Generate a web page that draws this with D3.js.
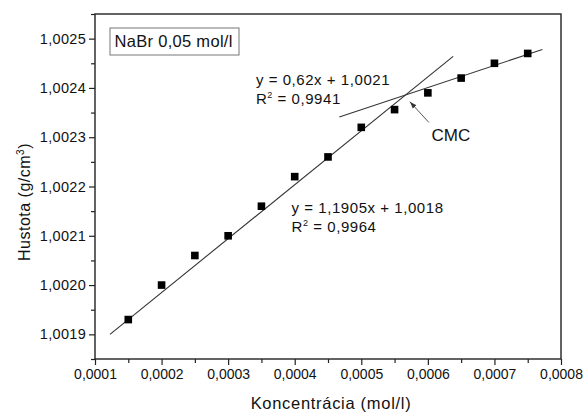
<!DOCTYPE html>
<html>
<head>
<meta charset="utf-8">
<script src="https://cdn.jsdelivr.net/npm/d3@7"></script>
<style>
  body { margin: 0; background: #fff; }
  svg text { font-family: "Liberation Sans", Arial, sans-serif; fill: #111; }
</style>
</head>
<body>
<script>
// measured points
const conc = [0.00015, 0.0002, 0.00025, 0.0003, 0.00035, 0.0004, 0.00045, 0.0005, 0.00055, 0.0006, 0.00065, 0.0007, 0.00075];
const density = [1.00193, 1.0020, 1.00206, 1.0021, 1.00216, 1.00222, 1.00226, 1.00232, 1.002356, 1.00239, 1.00242, 1.00245, 1.00247];

// fit lines, endpoints as drawn
const fitLowX = [0.0001225, 0.000638];
const fitLowY = [1.0019, 1.002464];
const fitHighX = [0.000467, 0.000772];
const fitHighY = [1.002341, 1.002478];

const xTicks = [0.0001, 0.0002, 0.0003, 0.0004, 0.0005, 0.0006, 0.0007, 0.0008];
const yTicks = [1.0019, 1.0020, 1.0021, 1.0022, 1.0023, 1.0024, 1.0025];

const W = 583, H = 412;
const margin = { top: 14, right: 22, bottom: 53, left: 95 };

const svg = d3.select("body").append("svg")
    .attr("width", W)
    .attr("height", H);

const x = d3.scaleLinear().domain([0.0001, 0.0008]).range([margin.left, W - margin.right]);
const y = d3.scaleLinear().domain([1.00185, 1.00255]).range([H - margin.bottom, margin.top]);

const comma = d => d3.format(".4f")(d).replace(".", ",");

// minor ticks
const xMinor = d3.range(0.00015, 0.0008, 0.0001);
const yMinor = d3.range(1.00185, 1.00255, 0.0001);

svg.append("g")
    .attr("transform", `translate(0,${H - margin.bottom})`)
    .call(d3.axisBottom(x).tickValues(xMinor).tickSize(4).tickFormat(""))
    .call(g => g.select(".domain").remove());
svg.append("g")
    .attr("transform", `translate(${margin.left},0)`)
    .call(d3.axisLeft(y).tickValues(yMinor).tickSize(4).tickFormat(""))
    .call(g => g.select(".domain").remove());

const xAxis = svg.append("g")
    .attr("transform", `translate(0,${H - margin.bottom})`)
    .call(d3.axisBottom(x).tickValues(xTicks).tickSize(6).tickPadding(4).tickFormat(comma));
xAxis.selectAll("text").style("font-size", "14px").attr("font-family", null);

const yAxis = svg.append("g")
    .attr("transform", `translate(${margin.left},0)`)
    .call(d3.axisLeft(y).tickValues(yTicks).tickSize(6).tickPadding(3).tickFormat(comma));
yAxis.selectAll("text").style("font-size", "14.5px").style("letter-spacing", "0.3px").attr("font-family", null);

svg.selectAll(".tick line").attr("stroke", "#222").attr("stroke-width", 1.2);
svg.selectAll(".domain").remove();

// frame
svg.append("rect")
    .attr("x", x(0.0001)).attr("y", y(1.00255))
    .attr("width", x(0.0008) - x(0.0001))
    .attr("height", y(1.00185) - y(1.00255))
    .attr("fill", "none")
    .attr("stroke", "#222")
    .attr("stroke-width", 1.4);

// fit lines
const line = d3.line().x(d => x(d[0])).y(d => y(d[1]));
[[fitLowX, fitLowY], [fitHighX, fitHighY]].forEach(([xs, ys]) => {
    svg.append("path")
        .datum(xs.map((v, i) => [v, ys[i]]))
        .attr("fill", "none")
        .attr("stroke", "#333")
        .attr("stroke-width", 1.1)
        .attr("d", line);
});

// markers
svg.selectAll(".pt")
    .data(conc.map((c, i) => [c, density[i]]))
    .enter().append("rect")
    .attr("class", "pt")
    .attr("x", d => x(d[0]) - 3.8)
    .attr("y", d => y(d[1]) - 3.8)
    .attr("width", 7.6)
    .attr("height", 7.6)
    .attr("fill", "#000");

// equations
function equation(px, py, eq, r2) {
    svg.append("text")
        .attr("x", x(px)).attr("y", y(py))
        .style("font-size", "15px")
        .style("letter-spacing", "0.55px")
        .text(eq);
    const r = svg.append("text")
        .attr("x", x(px)).attr("y", y(py) + 19)
        .style("font-size", "15px")
        .style("letter-spacing", "0.55px");
    r.append("tspan").text("R");
    r.append("tspan").attr("dy", -6).style("font-size", "9px").text("2");
    r.append("tspan").attr("dy", 6).text(" = " + r2);
}
equation(0.0003417, 1.002405, "y = 0,62x + 1,0021", "0,9941");
equation(0.0003953, 1.002147, "y = 1,1905x + 1,0018", "0,9964");

// CMC arrow
svg.append("defs").append("marker")
    .attr("id", "arr")
    .attr("viewBox", "0 0 10 10")
    .attr("refX", 10).attr("refY", 5)
    .attr("markerWidth", 7).attr("markerHeight", 7)
    .attr("orient", "auto")
    .append("path")
    .attr("d", "M0,1.5 L10,5 L0,8.5 Z")
    .attr("fill", "#333");

svg.append("line")
    .attr("x1", x(0.0006015)).attr("y1", y(1.00233))
    .attr("x2", x(0.000573)).attr("y2", y(1.002372))
    .attr("stroke", "#555")
    .attr("stroke-width", 1)
    .attr("marker-end", "url(#arr)");

svg.append("text")
    .attr("x", x(0.0006056)).attr("y", y(1.002292))
    .style("font-size", "17px")
    .text("CMC");

// label box
svg.append("rect")
    .attr("x", 110).attr("y", 28)
    .attr("width", 129).attr("height", 27)
    .attr("fill", "#fff")
    .attr("stroke", "#777")
    .attr("stroke-width", 1);
svg.append("text")
    .attr("x", 114.5).attr("y", 47)
    .style("font-size", "16.5px")
    .style("letter-spacing", "0.3px")
    .text("NaBr 0,05 mol/l");

// axis titles
svg.append("text")
    .attr("x", 331).attr("y", 409)
    .attr("text-anchor", "middle")
    .style("font-size", "16.5px")
    .style("letter-spacing", "0.7px")
    .text("Koncentrácia (mol/l)");

const yl = svg.append("text")
    .attr("transform", "translate(30,202) rotate(-90)")
    .attr("text-anchor", "middle")
    .style("font-size", "16px")
    .style("letter-spacing", "0.5px");
yl.append("tspan").text("Hustota (g/cm");
yl.append("tspan").attr("dy", -6).style("font-size", "10px").text("3");
yl.append("tspan").attr("dy", 6).text(")");
</script>
</body>
</html>
